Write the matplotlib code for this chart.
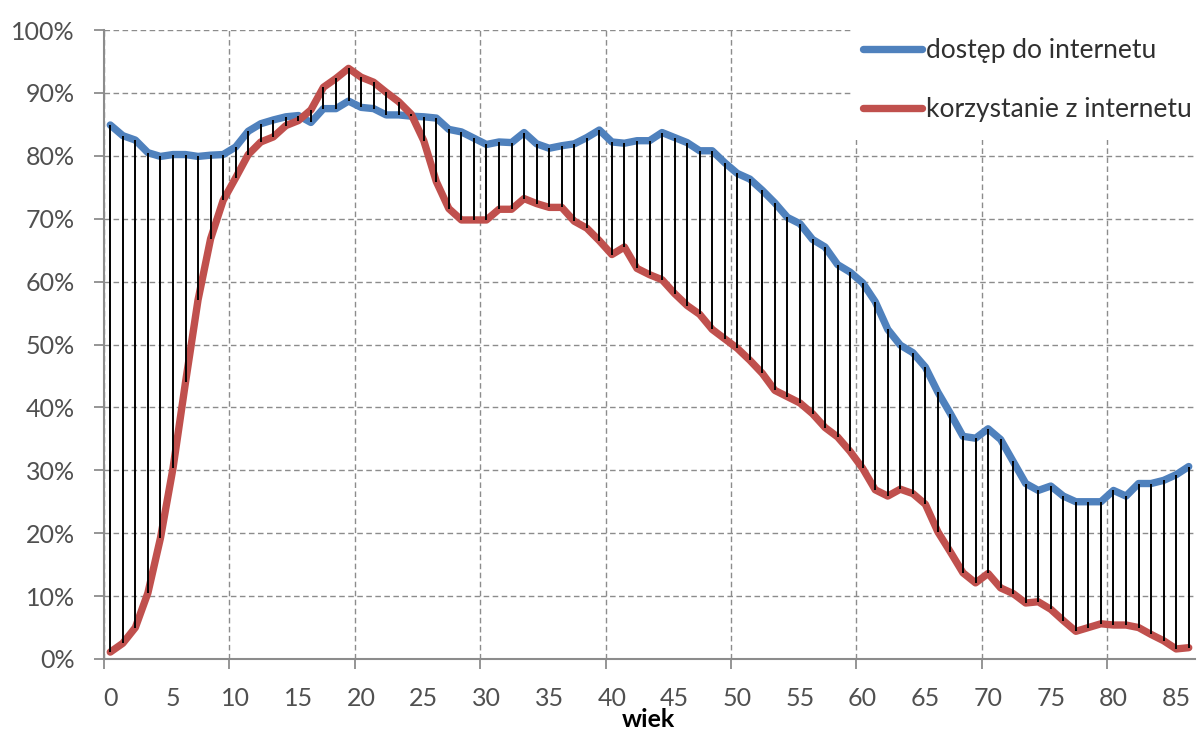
import matplotlib
matplotlib.use("Agg")
import matplotlib.pyplot as plt
from matplotlib.patches import Rectangle
import numpy as np

# ====================== DATA ======================
ages = list(range(0, 87))

# dostęp do internetu (share with internet access), %
dostep = [84.9, 83.2, 82.5, 80.5, 79.9, 80.2, 80.2, 79.9, 80.1, 80.2,
          81.4, 83.9, 85.1, 85.7, 86.2, 86.4, 85.3, 87.5, 87.5, 88.7,
          87.7, 87.5, 86.5, 86.5, 86.3, 86.2, 86.0, 84.2, 83.8, 82.8,
          81.8, 82.2, 82.1, 83.7, 81.9, 81.2, 81.6, 81.9, 82.9, 84.1,
          82.2, 82.0, 82.4, 82.4, 83.7, 82.9, 82.1, 80.8, 80.8, 78.9,
          77.2, 76.3, 74.5, 72.5, 70.2, 69.2, 66.7, 65.5, 62.7, 61.5,
          59.8, 56.8, 52.4, 49.9, 48.7, 46.4, 42.4, 39.0, 35.4, 35.1,
          36.6, 34.9, 31.4, 27.9, 26.8, 27.5, 25.9, 25.0, 25.0, 25.0,
          26.8, 25.9, 27.9, 27.9, 28.4, 29.3, 30.6]

# korzystanie z internetu (share using the internet), %
korzystanie = [1.1, 2.5, 5.0, 10.5, 19.2, 30.3, 44.0, 57.1, 66.8, 72.9,
               76.5, 80.2, 82.2, 83.0, 84.8, 85.6, 87.3, 90.9, 92.3, 93.9,
               92.5, 91.7, 90.1, 88.6, 86.6, 82.4, 75.9, 71.6, 69.8, 69.8,
               69.8, 71.5, 71.5, 73.2, 72.4, 71.8, 71.8, 69.6, 68.5, 66.5,
               64.3, 65.5, 62.1, 61.1, 60.3, 58.1, 56.2, 54.8, 52.4, 50.9,
               49.4, 47.5, 45.4, 42.7, 41.7, 40.7, 39.0, 36.8, 35.3, 33.0,
               30.3, 26.9, 25.9, 27.0, 26.3, 24.6, 20.2, 17.0, 13.7, 12.1,
               13.6, 11.3, 10.4, 8.9, 9.1, 7.9, 6.1, 4.4, 5.0, 5.6,
               5.4, 5.4, 5.0, 3.9, 2.9, 1.6, 1.8]

labels = ["dostęp do internetu", "korzystanie z internetu"]
x_label_ticks = list(range(0, 86, 5))
y_ticks = [i / 10 for i in range(11)]
# ===================================================

BLUE = "#4F81BD"
RED = "#C0504D"
GRID = "#8C8C8C"
TXT = "#505050"

plt.rcParams['font.family'] = ['Lato', 'DejaVu Sans']

fig = plt.figure(figsize=(12, 7.31), dpi=100)
ax = fig.add_axes([104 / 1200, 72 / 731, 1091 / 1200, 629 / 731])

a = np.array(ages)
d = np.array(dostep) / 100
k = np.array(korzystanie) / 100

ax.plot(a, d, color=BLUE, lw=5.3, solid_joinstyle='round', solid_capstyle='round',
        label=labels[0], zorder=3)
ax.plot(a, k, color=RED, lw=5.3, solid_joinstyle='round', solid_capstyle='round',
        label=labels[1], zorder=3)
# high-low lines between the two series
ax.vlines(a, np.minimum(d, k), np.maximum(d, k), color='black', lw=1.4, zorder=4)

ax.set_xlim(-0.5, 86.5)
ax.set_ylim(0, 1)

# gridlines / tick marks sit between categories, labels on categories
ax.set_xticks(np.arange(-0.5, 86, 10))
ax.set_xticklabels([])
ax.set_xticks(x_label_ticks, minor=True)
ax.set_xticklabels([str(v) for v in x_label_ticks], minor=True)
ax.tick_params(axis='x', which='major', length=7.2, width=1.3, color=GRID, direction='out')
ax.tick_params(axis='x', which='minor', length=0, pad=20.5, labelsize=18, labelcolor=TXT)

ax.set_yticks(y_ticks)
ax.set_yticklabels([f"{int(round(v * 100))}%" for v in y_ticks])
ax.tick_params(axis='y', length=7.2, width=1.3, color=GRID, pad=13.7, labelsize=18,
               labelcolor=TXT)

ax.grid(True, which='major', color=GRID, lw=1.0, ls=(0, (4, 2.5)))

for s in ['top', 'right']:
    ax.spines[s].set_visible(False)
for s in ['left', 'bottom']:
    ax.spines[s].set_color(GRID)
    ax.spines[s].set_linewidth(1.5)

fig.text(648 / 1200, 4 / 731, "wiek", fontsize=18, fontweight='bold', color='black',
         ha='center', va='baseline')

# white area behind legend hides gridlines there
ax.add_patch(Rectangle((0.686, 0.825), 0.4, 0.3, transform=ax.transAxes,
                       facecolor='white', edgecolor='none', zorder=1.6, clip_on=False))

leg = ax.legend(loc='upper left', bbox_to_anchor=(863 / 1200, 1 - 38 / 731),
                bbox_transform=fig.transFigure, frameon=False, fontsize=19,
                handlelength=2.25, handletextpad=0.12, labelspacing=1.3,
                borderpad=0, borderaxespad=0)
for t in leg.get_texts():
    t.set_color("#303030")

plt.savefig("out.png", dpi=100)
